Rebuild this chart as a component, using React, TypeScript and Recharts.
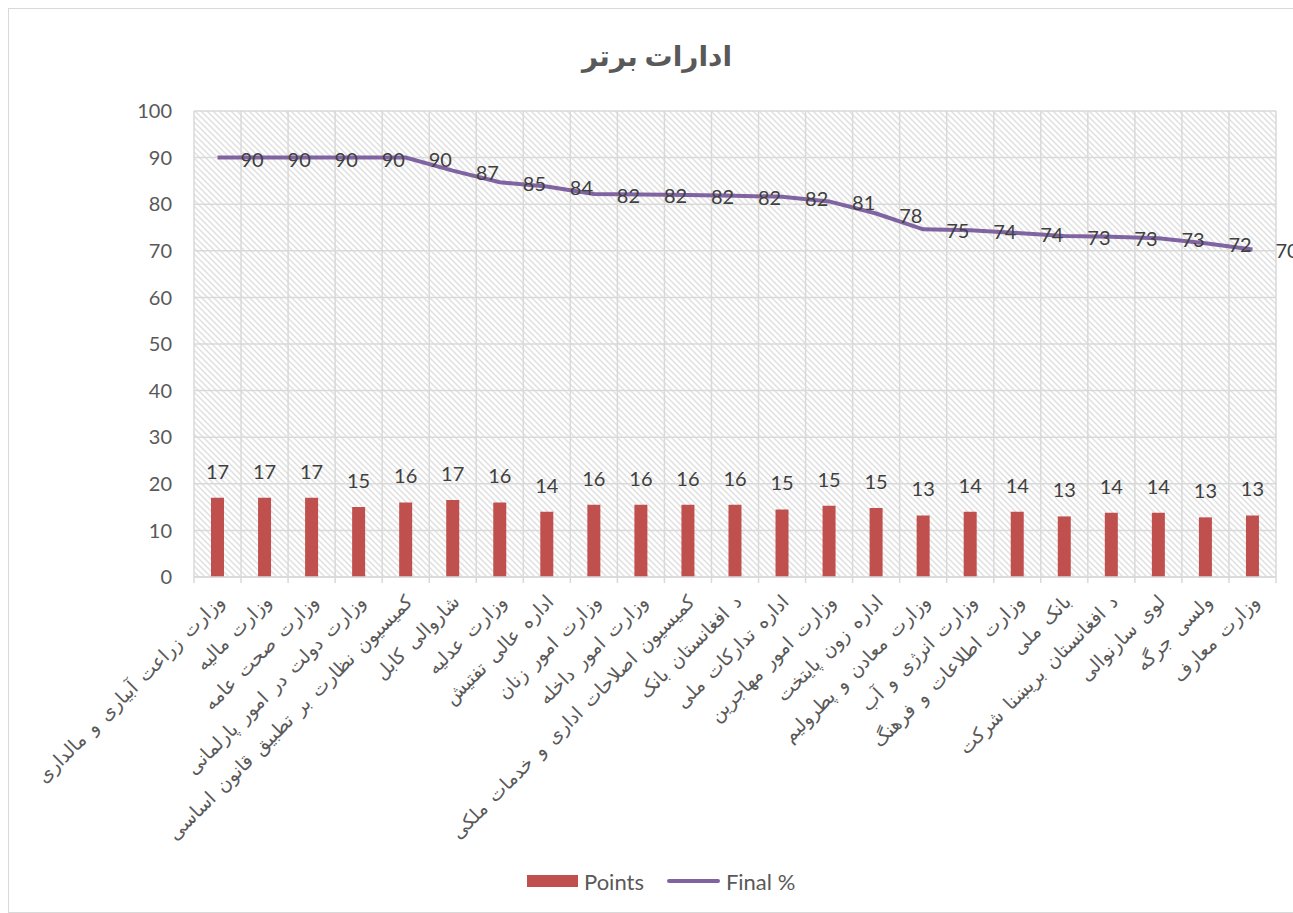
import React from "react";
import {
  ComposedChart,
  Bar,
  Line,
  XAxis,
  YAxis,
  CartesianGrid,
  LabelList,
} from "recharts";

const categories: string[] = [
  "وزارت زراعت آبیاری و مالداری",
  "وزارت مالیه",
  "وزارت صحت عامه",
  "وزارت دولت در امور پارلمانی",
  "کمیسیون نظارت بر تطبیق قانون اساسی",
  "شاروالی کابل",
  "وزارت عدلیه",
  "اداره عالی تفتیش",
  "وزارت امور زنان",
  "وزارت امور داخله",
  "کمیسیون اصلاحات اداری و خدمات ملکی",
  "د افغانستان بانک",
  "اداره تدارکات ملی",
  "وزارت امور مهاجرین",
  "اداره زون پایتخت",
  "وزارت معادن و پطرولیم",
  "وزارت انرژی و آب",
  "وزارت اطلاعات و فرهنگ",
  "بانک ملی",
  "د افغانستان بریښنا شرکت",
  "لوی سارنوالی",
  "ولسی جرگه",
  "وزارت معارف",
];

const points: number[] = [
  17.0, 17.0, 17.0, 15.0, 16.0, 16.5, 16.0, 14.0, 15.5, 15.5, 15.5, 15.5,
  14.5, 15.3, 14.8, 13.2, 14.0, 14.0, 13.0, 13.8, 13.8, 12.8, 13.2,
];

const finalPct: number[] = [
  90, 90, 90, 90, 90, 87.2, 84.7, 83.8, 82.2, 82.1, 82, 81.8, 81.6, 80.6, 78,
  74.6, 74.4, 73.8, 73.2, 73, 72.7, 71.6, 70.3,
];

const yTicks: number[] = [0, 10, 20, 30, 40, 50, 60, 70, 80, 90, 100];

const title = "ادارات برتر";
const seriesNames = { points: "Points", final: "Final %" };

const data = categories.map((name, i) => ({
  name,
  points: points[i],
  final: finalPct[i],
}));

const FONT = "Lato, 'DejaVu Sans', sans-serif";
const BAR_COLOR = "#C0504D";
const LINE_COLOR = "#8064A2";
const GRID_COLOR = "#d9d9d9";
const AXIS_TEXT = "#595959";
const LABEL_TEXT = "#404040";

// vertical grid lines on category boundaries, derived from the plot offset
const boundaryGenerator = (props: any) => {
  const { offset } = props;
  const n = categories.length;
  const band = offset.width / n;
  const out: number[] = [];
  for (let i = 0; i <= n; i++) out.push(offset.left + i * band);
  return out;
};

const XTick = (props: any) => {
  const { x, y, payload, index, width } = props;
  const half = typeof width === "number" ? width / categories.length / 2 : 0;
  const isLast = index === categories.length - 1;
  return (
    <g>
      {half > 0 && (
        <line
          x1={x - half}
          x2={x - half}
          y1={y - 8}
          y2={y - 2}
          stroke={GRID_COLOR}
          strokeWidth={1.5}
        />
      )}
      {half > 0 && isLast && (
        <line
          x1={x + half}
          x2={x + half}
          y1={y - 8}
          y2={y - 2}
          stroke={GRID_COLOR}
          strokeWidth={1.5}
        />
      )}
      <g transform={`translate(${x + 8},${y + 18}) rotate(-45)`}>
        <text
          x={0}
          y={0}
          textAnchor="end"
          fill={AXIS_TEXT}
          fontSize={19}
          wordSpacing={4}
          fontFamily={FONT}
        >
          {payload.value}
        </text>
      </g>
    </g>
  );
};

const BarLabel = (props: any) => {
  const { x, y, width, value } = props;
  return (
    <text
      x={x + width / 2}
      y={y - 19}
      textAnchor="middle"
      fill={LABEL_TEXT}
      fontSize={20}
      fontFamily={FONT}
    >
      {Math.round(value)}
    </text>
  );
};

const LineLabel = (props: any) => {
  const { x, y, value } = props;
  return (
    <text
      x={x + 23}
      y={y + 9}
      textAnchor="start"
      fill={LABEL_TEXT}
      fontSize={20}
      fontFamily={FONT}
    >
      {Math.round(value)}
    </text>
  );
};

export default function App() {
  return (
    <div
      style={{
        position: "fixed",
        top: 0,
        left: 0,
        width: 1293,
        height: 913,
        overflow: "hidden",
        background: "#fff",
      }}
    >
      <div
        style={{
          position: "absolute",
          top: 8,
          left: 8,
          width: 1296,
          height: 903,
          border: `1px solid ${GRID_COLOR}`,
          background: "#fff",
          fontFamily: FONT,
        }}
      >
        <div
          style={{
            position: "absolute",
            top: 26,
            left: 0,
            width: "100%",
            textAlign: "center",
            fontSize: 28,
            fontWeight: "bold",
            color: AXIS_TEXT,
            fontFamily: FONT,
            lineHeight: "40px",
          }}
        >
          {title}
        </div>
        <ComposedChart
          width={1296}
          height={903}
          data={data}
          margin={{ top: 102, right: 29, bottom: 85, left: 0 }}
        >
          <defs>
            <pattern
              id="hatch"
              width="6"
              height="6"
              patternUnits="userSpaceOnUse"
            >
              <rect width="6" height="6" fill="#ffffff" />
              <path
                d="M-1.5,4.5 L1.5,7.5 M0,0 L6,6 M4.5,-1.5 L7.5,1.5"
                stroke="#e0e0e0"
                strokeWidth={1.5}
              />
            </pattern>
          </defs>
          <CartesianGrid
            stroke={GRID_COLOR}
            strokeWidth={1.5}
            fill="url(#hatch)"
            fillOpacity={1}
            verticalCoordinatesGenerator={boundaryGenerator}
          />
          <XAxis
            dataKey="name"
            interval={0}
            height={250}
            tick={<XTick />}
            tickLine={false}
            axisLine={{ stroke: GRID_COLOR, strokeWidth: 1.5 }}
          />
          <YAxis
            domain={[0, 100]}
            ticks={yTicks}
            interval={0}
            width={185}
            axisLine={false}
            tickLine={false}
            tickMargin={16}
            tick={{ fill: AXIS_TEXT, fontSize: 20, fontFamily: FONT }}
          />
          <Bar
            dataKey="points"
            name={seriesNames.points}
            fill={BAR_COLOR}
            barSize={13}
            isAnimationActive={false}
          >
            <LabelList dataKey="points" content={<BarLabel />} />
          </Bar>
          <Line
            dataKey="final"
            name={seriesNames.final}
            type="linear"
            stroke={LINE_COLOR}
            strokeWidth={4}
            dot={false}
            activeDot={false}
            isAnimationActive={false}
          >
            <LabelList dataKey="final" content={<LineLabel />} />
          </Line>
        </ComposedChart>
        <div
          style={{
            position: "absolute",
            top: 859,
            left: 518,
            display: "flex",
            alignItems: "center",
            fontSize: 22,
            color: AXIS_TEXT,
            fontFamily: FONT,
            height: 26,
          }}
        >
          <span
            style={{
              display: "inline-block",
              width: 51,
              height: 12,
              background: BAR_COLOR,
              marginRight: 6,
            }}
          />
          <span>{seriesNames.points}</span>
          <span
            style={{
              display: "inline-block",
              width: 53,
              height: 4,
              background: LINE_COLOR,
              marginLeft: 23,
              marginRight: 6,
              borderRadius: 2,
            }}
          />
          <span>{seriesNames.final}</span>
        </div>
      </div>
    </div>
  );
}
